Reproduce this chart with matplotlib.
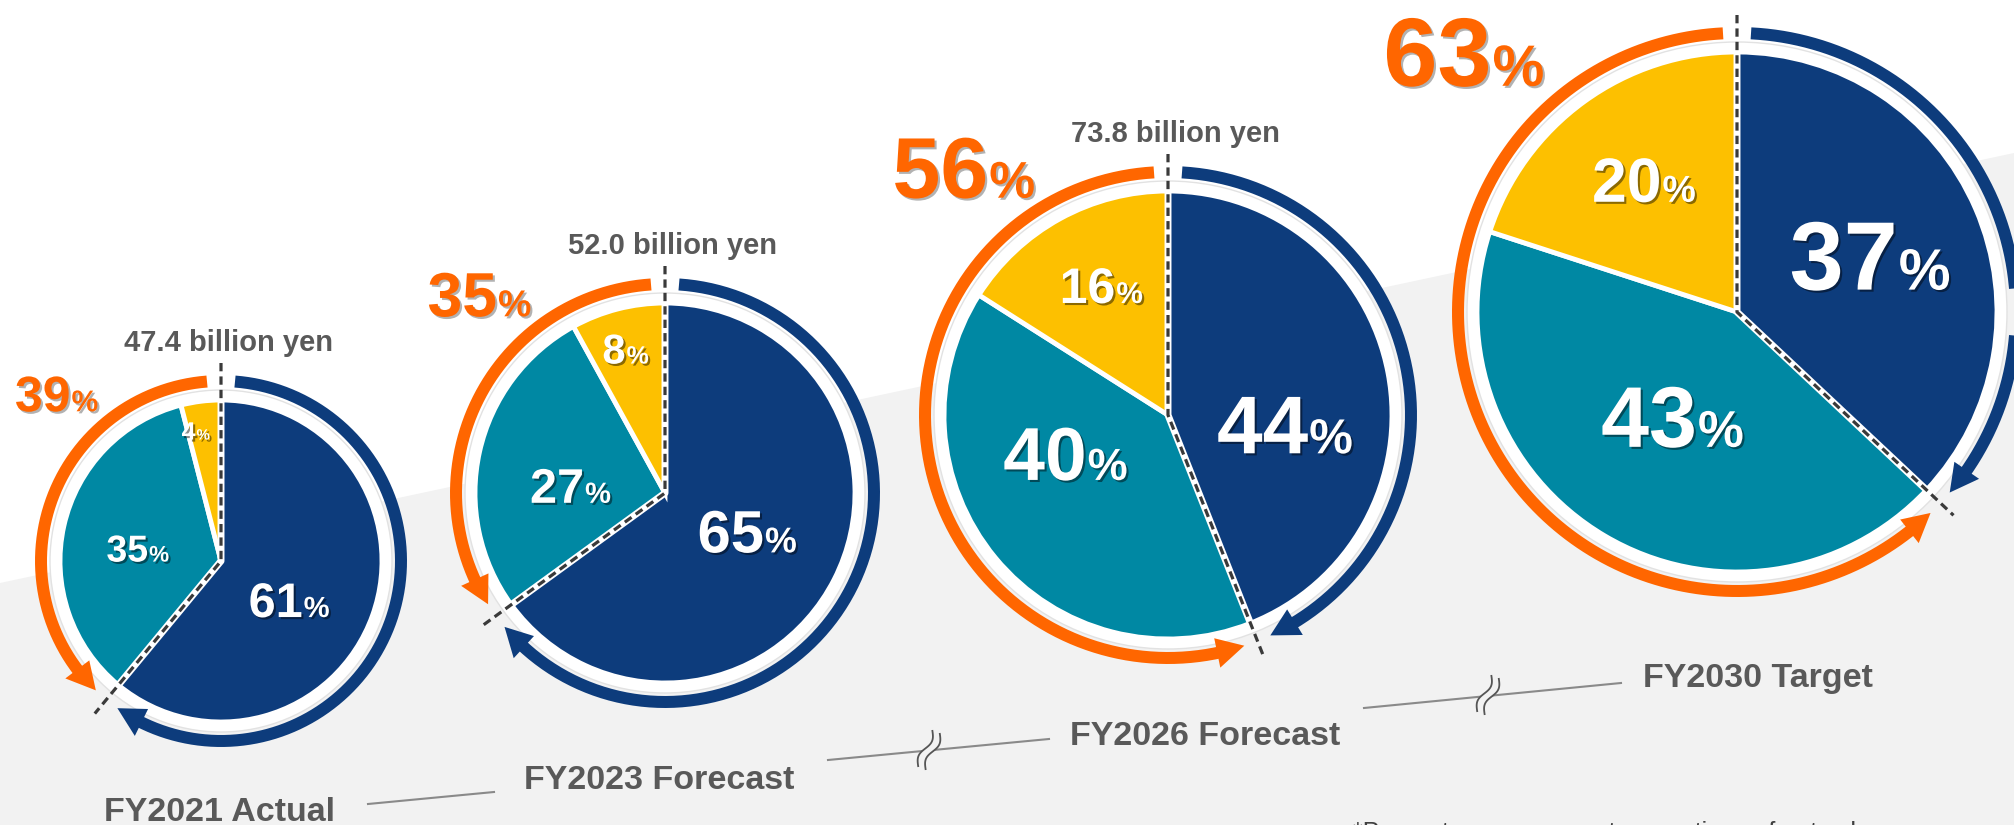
"""
Sales mix by segment, FY2021 actual through FY2030 target.
Four pies that grow with sales, a ring arrow for each share group.
"""

import numpy as np

import matplotlib
matplotlib.use('Agg')
import matplotlib.pyplot as plt
import matplotlib.patheffects as pe
from matplotlib.patches import Polygon, Circle

plt.rcParams['font.family'] = ['Liberation Sans', 'DejaVu Sans']

# ── Data ──────────────────────────────────────────────────────
PERIODS   = ['FY2021 Actual', 'FY2023 Forecast', 'FY2026 Forecast', 'FY2030 Target']
SALES     = ['47.4 billion yen', '52.0 billion yen', '73.8 billion yen', None]
SHARE_A   = [61, 65, 44, 37]      # navy slice
SHARE_B   = [35, 27, 40, 43]      # teal slice
SHARE_C   = [4, 8, 16, 20]        # yellow slice
GROWTH    = [39, 35, 56, 63]      # orange ring = teal + yellow
NOTE      = '*Percentages represent proportions of net sales'

# ── Layout (pixel units, y up) ───────────────────────────────
W, H    = 2014, 825
CENTERS = [(221, 264), (665, 332), (1168, 410), (1737, 513)]
RADII   = [161, 190, 224, 260]

NAVY   = '#0d3c7c'
TEAL   = '#0088a3'
YELLOW = '#fdc000'
ORANGE = '#ff6600'
GREY_T = '#595959'
BG     = '#f2f2f2'

ARC_GAP  = 19      # distance ring -> pie edge
ARC_LW   = 12      # ring thickness in px
PX       = 0.72    # points per pixel at dpi 100

# slice label centres, as fractions of the radius
LABEL_POS = [
    [(0.42, -0.24), (-0.52, 0.08), (-0.16, 0.81)],
    [(0.43, -0.20), (-0.50, 0.04), (-0.21, 0.76)],
    [(0.52, -0.04), (-0.46, -0.17), (-0.30, 0.58)],
    [(0.51, 0.22), (-0.25, -0.40), (-0.36, 0.51)],
]
LABEL_SIZE = [[35, 27, 18], [43, 35, 30], [59, 54, 36], [70, 62, 45]]

# orange headline: left edge and baseline, fractions of the radius
GROWTH_POS  = [(-1.28, 0.93), (-1.25, 0.93), (-1.23, 0.97), (-1.36, 0.87)]
GROWTH_SIZE = [36, 45, 62, 70]

# period captions (left, baseline) and the connector lines between them
CAPTION_POS = [(104, 4), (524, 36), (1070, 80), (1643, 138)]
CONNECTORS  = [((368, 21), (494, 33)), ((828, 65), (1049, 86)), ((1364, 117), (1621, 142))]
BREAKS      = [None, (929, 75), (1488, 130)]


def pct_text(ax, left, base, num, size, color, shadow_alpha):
    """Number plus a smaller % sign sharing one baseline."""
    psize = size * 0.6
    num_w = 0.556 * len(str(num)) * size / PX
    fx = [pe.withSimplePatchShadow(offset=(1.5, -1.5), shadow_rgbFace='black',
                                   alpha=shadow_alpha)]
    ax.text(left, base, str(num), fontsize=size, fontweight='bold', color=color,
            ha='left', va='baseline', zorder=6, path_effects=fx)
    ax.text(left + num_w + 1, base, '%', fontsize=psize, fontweight='bold', color=color,
            ha='left', va='baseline', zorder=6, path_effects=fx)


def pct_text_centered(ax, cx, cy, num, size, color):
    em = size / PX
    total = 0.556 * len(str(num)) * em + 0.889 * 0.6 * em
    pct_text(ax, cx - total / 2, cy - 0.358 * em, num, size, color, 0.45)


def ring_arrow(ax, cx, cy, R, a0, a1, color):
    """Arc from a0 to a1 (degrees, ccw positive) ending in a filled arrowhead."""
    direction = np.sign(a1 - a0)
    head_len, head_w = 28, 30
    t_tip  = np.radians(a1)
    t_base = t_tip - direction * head_len / R
    t = np.linspace(np.radians(a0), t_base + direction * 0.01, 300)
    ax.plot(cx + R * np.cos(t), cy + R * np.sin(t), color=color,
            lw=ARC_LW * PX, solid_capstyle='butt', zorder=3)
    tip   = (cx + R * np.cos(t_tip), cy + R * np.sin(t_tip))
    b_in  = (cx + (R - head_w / 2) * np.cos(t_base), cy + (R - head_w / 2) * np.sin(t_base))
    b_out = (cx + (R + head_w / 2) * np.cos(t_base), cy + (R + head_w / 2) * np.sin(t_base))
    ax.add_patch(Polygon([tip, b_in, b_out], closed=True, facecolor=color,
                         edgecolor='none', zorder=3))


def break_mark(ax, x, y):
    """Two parallel S-curves with white fill, marking a gap in the time axis."""
    s = np.linspace(-1, 1, 60)
    ys = 19 * s
    xs = 3.5 * np.sin(np.pi * s)
    rot = np.radians(-22)
    pts = []
    for off in (-4, 4):
        px = xs + off
        rx = px * np.cos(rot) - ys * np.sin(rot)
        ry = px * np.sin(rot) + ys * np.cos(rot)
        pts.append((x + rx, y + ry))
    poly = np.vstack([np.column_stack(pts[0]), np.column_stack(pts[1])[::-1]])
    ax.add_patch(Polygon(poly, closed=True, facecolor=BG, edgecolor='none', zorder=2))
    for px_, py_ in pts:
        ax.plot(px_, py_, color='#555555', lw=1.3, zorder=2)


fig = plt.figure(figsize=(W / 100, H / 100), dpi=100)
fig.patch.set_facecolor('white')
ax = fig.add_axes([0, 0, 1, 1])

# light grey band rising to the right
ax.add_patch(Polygon([(0, 0), (0, 242), (W, 672), (W, 0)], closed=True,
                     facecolor=BG, edgecolor='none', zorder=0))

for i, (cx, cy) in enumerate(CENTERS):
    r = RADII[i]
    vals = [SHARE_A[i], SHARE_B[i], SHARE_C[i]]

    ax.add_patch(Circle((cx, cy), r + 10, facecolor='white', edgecolor='#e2e2e2',
                        lw=1, zorder=1))
    wedges, _ = ax.pie(vals, colors=[NAVY, TEAL, YELLOW], startangle=90,
                       counterclock=False, center=(cx, cy), radius=r,
                       wedgeprops=dict(edgecolor='white', linewidth=3.5))
    for w in wedges:
        w.set_zorder(2)

    # boundary between navy and the rest, in ccw degrees
    b = 90 - 360 * SHARE_A[i] / 100
    R = r + ARC_GAP
    top_gap = np.degrees(np.arcsin(14 / R))
    end_gap = np.degrees(14 / R)
    ring_arrow(ax, cx, cy, R, 90 + top_gap, b + 360 - end_gap, ORANGE)
    ring_arrow(ax, cx, cy, R, 90 - top_gap, b + end_gap, NAVY)

    # dashed split line: from above the ring, to the centre, out past the ring
    L = R + 18
    bx, by = cx + L * np.cos(np.radians(b)), cy + L * np.sin(np.radians(b))
    ex, ey = cx + r * np.cos(np.radians(b)), cy + r * np.sin(np.radians(b))
    ax.plot([cx, cx, ex], [cy + r, cy, ey], color='white', lw=5, zorder=4,
            solid_capstyle='butt')
    ax.plot([cx, cx, bx], [cy + L, cy, by], color='#3a3a3a', lw=2.3,
            dashes=(2.6, 1.6), zorder=4)

    for (dx, dy), num, size in zip(LABEL_POS[i], vals, LABEL_SIZE[i]):
        pct_text_centered(ax, cx + dx * r, cy + dy * r, num, size, 'white')

    gx, gy = GROWTH_POS[i]
    pct_text(ax, cx + gx * r, cy + gy * r, GROWTH[i], GROWTH_SIZE[i], ORANGE, 0.3)

    if SALES[i]:
        ax.text(cx + 7, cy + r + 57, SALES[i], fontsize=21, fontweight='bold',
                color=GREY_T, ha='center', va='center', zorder=6)

for (x, y), lab in zip(CAPTION_POS, PERIODS):
    ax.text(x, y, lab, fontsize=24.5, fontweight='bold', color=GREY_T,
            ha='left', va='baseline', zorder=6)

for (p0, p1), brk in zip(CONNECTORS, BREAKS):
    ax.plot([p0[0], p1[0]], [p0[1], p1[1]], color='#8a8a8a', lw=1.5, zorder=1)
    if brk:
        break_mark(ax, *brk)

ax.text(1353, -15, NOTE, fontsize=18, color='#404040', ha='left', va='baseline',
        zorder=6, clip_on=False)

ax.set_xlim(0, W)
ax.set_ylim(0, H)
ax.set_aspect('equal')
ax.axis('off')

fig.savefig('out.png', dpi=100, facecolor='white')
plt.close(fig)
